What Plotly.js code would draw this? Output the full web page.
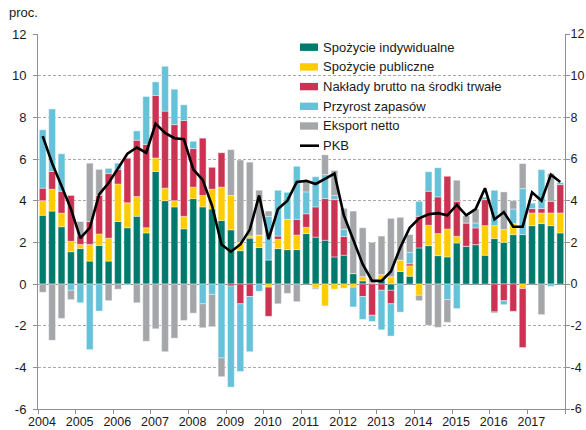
<!DOCTYPE html>
<html><head><meta charset="utf-8">
<script src="https://cdn.plot.ly/plotly-3.0.1.min.js"></script>
<style>html,body{margin:0;padding:0;background:#fff}#chart{width:586px;height:430px}</style>
</head><body><div id="chart"></div>
<script>
// ---- data ----
const years = ['2004','2005','2006','2007','2008','2009','2010','2011','2012','2013','2014','2015','2016','2017'];
const quarterNames = ['I','II','III','IV'];
const quarters = years.flatMap(y => quarterNames.map(q => y + ' ' + q));

const seriesNames = ['Spożycie indywidualne','Spożycie publiczne','Nakłady brutto na środki trwałe','Przyrost zapasów','Eksport netto','PKB'];

const spozycieIndywidualne = [
 3.3, 3.5, 2.75, 1.55,  1.7, 1.1, 1.85, 1.1,  3.0, 2.7, 3.25, 2.45,  5.4, 4.0, 3.7, 2.65,
 4.1, 3.7, 3.6, 3.05,  2.6, 1.6, 2.2, 1.75,  1.15, 1.7, 1.65, 1.65,  2.42, 2.25, 2.1, 1.3,
 1.38, 0.5, 0.15, 0.05,  0.2, -0.3, 0.6, 0.37,  1.73, 1.84, 1.36, 1.3,  1.97, 1.81, 1.89, 1.38,
 2.18, 2.0, 2.37, 2.37,  2.8, 2.9, 2.8, 2.45];
const spozyciePubliczne = [
 0.7, 1.05, 0.65, 0.5,  0.2, 0.8, 0.55, 1.1,  1.8, 1.2, 0.95, 0.25,  0.65, 0.6, 0.3, 0.6,
 0.55, 0.55, 0.95, 1.6,  1.65, 0.4, 0.1, 0.6,  -0.15, 0.45, 1.45, 0.7,  0.3, -0.2, -1.05, -0.25,
 -0.2, -0.15, 0.2, 0,  0.25, 0.35, 0.55, 0.5,  -0.54, 0.98, 1.06, 1.34,  0.32, 0, 0, 1.42,
 0.62, 0.61, 0.53, -0.22,  0.61, 0.51, 0.61, 0.96];
const nakladyBrutto = [
 0.6, 0.85, 1.05, 2.2,  0.4, 1.1, 1.85, 3.1,  0.7, 2.15, 2.7, 4.0,  3.0, 3.7, 3.65, 4.6,
 1.85, 2.75, 1.05, 1.65,  -0.1, -0.95, -0.6, 0,  -1.4, 0.15, 0, 0.75,  0.65, 1.45, 2.0, 2.75,
 0.9, 0, -0.6, -1.5,  -0.3, -0.65, 0, 0.1,  1.52, 1.63, 1.76, 2.53,  1.68, 1.12, 0.8, 1.25,
 -1.34, -0.8, -1.31, -2.83,  0.21, 0.21, 0.56, 1.36];
const przyrostZapasow = [
 2.8, 3.0, 1.8, -0.3,  -0.9, -3.15, -1.3, 0.25,  0.3, -0.05, 0.45, 2.3,  0.65, 2.15, 1.7, 0.75,
 0.35, -0.95, -0.5, -3.55,  -4.85, -3.25, -2.65, -0.35,  2.1, 2.2, 1.3, 2.55,  1.05, 1.45, 1.15, 0.2,
 0.35, -0.95, -1.1, -0.3,  -1.9, -1.55, -1.35, 0.55,  0.72, 0.94, 1.4, -0.75,  -1.18, 0, 0.24, 0.13,
 1.7, -0.19, 0.7, 2.21,  0.27, 1.87, -0.11, 0.11];
const eksportNetto = [
 -0.4, -2.7, -1.65, -0.45,  0.7, 2.8, 1.25, -0.8,  -0.25, 0, -0.9, -2.75,  -2.15, -3.25, -2.6, -1.75,
 -1.4, -1.15, -1.55, -0.9,  2.2, 3.95, 3.55, 2.15,  0.25, -0.95, -0.45, -0.85,  0.55, -0.05, 0.95, 1.2,
 1.0, 3.0, 2.35, 1.95,  1.85, 2.8, 2.05, 0.85,  -0.26, -1.98, -2.08, -1.09,  1.01, 0.35, 0.67, 0,
 -0.05, 1.81, 0.4, 1.2,  0, -1.47, 1.33, 0];
const pkb = [
 7.1, 5.8, 4.7, 3.6,  2.2, 2.7, 4.3, 4.85,  5.55, 6.25, 6.55, 6.3,  7.7, 7.25, 7.0, 6.95,
 5.5, 5.0, 3.75, 1.9,  1.55, 1.9, 2.6, 4.25,  2.15, 3.6, 4.0, 4.9,  4.95, 4.8, 5.05, 5.3,
 3.3, 2.1, 0.95, 0.15,  0.15, 0.6, 1.75, 2.7,  3.15, 3.35, 3.4, 3.3,  3.8, 3.3, 3.6, 4.6,
 3.1, 3.45, 2.75, 2.75,  4.4, 4.0, 5.25, 4.9];

const yTickVals = [-6,-4,-2,0,2,4,6,8,10,12];
const yTickText = ['-6','-4','-2','0','2','4','6','8','10','12'];

// ---- styles ----
const colors = ['#007A6C','#FFCC00','#CC3352','#66C2D8','#A4A6A9','#000000'];
const barSeries = [spozycieIndywidualne, spozyciePubliczne, nakladyBrutto, przyrostZapasow, eksportNetto];

const xPos = quarters.map((q, i) => i + 0.5);
const xTickVals = years.map((y, i) => i * 4).concat([quarters.length]);
const xTickText = years.concat(['']);

const traces = barSeries.map((s, k) => ({
  type: 'bar', name: seriesNames[k], x: xPos, y: s,
  marker: {color: colors[k], line: {color: 'rgba(255,255,255,0.65)', width: 0.6}},
  hoverinfo: 'skip', showlegend: false
}));
traces.push({
  type: 'scatter', mode: 'lines', name: seriesNames[5], x: xPos, y: pkb, yaxis: 'y2',
  line: {color: '#000', width: 2.6}, hoverinfo: 'skip', showlegend: false
});

// plot area in pixels: x 38..565, y 34..409
const PL = 38, PR = 565, PT = 34, PB = 409;
const px = v => (v - PL) / (PR - PL);
const py = v => (PB - v) / (PB - PT);

const shapes = [];
const annotations = [{
  text: 'proc.', xref: 'paper', yref: 'paper', x: px(7), y: py(12.5), xanchor: 'left', yanchor: 'middle',
  showarrow: false, font: {size: 13, color: '#1a1a1a'}
}];
seriesNames.forEach((name, k) => {
  const c = 47.2 + k * 19.7;
  if (k < 5) {
    shapes.push({type: 'rect', xref: 'paper', yref: 'paper', x0: px(300), x1: px(318), y0: py(c + 3.7), y1: py(c - 3.7),
      fillcolor: colors[k], line: {width: 0}});
  } else {
    shapes.push({type: 'line', xref: 'paper', yref: 'paper', x0: px(300), x1: px(319), y0: py(c), y1: py(c),
      line: {color: '#000', width: 2.6}});
  }
  annotations.push({text: name, xref: 'paper', yref: 'paper', x: px(320.5), y: py(c), xanchor: 'left', yanchor: 'middle',
    showarrow: false, font: {size: 13, color: '#1a1a1a'}});
});

const axisColor = '#8f8f8f';
const layout = {
  width: 586, height: 430,
  margin: {l: PL, r: 586 - PR, t: PT, b: 430 - PB, pad: 0},
  paper_bgcolor: '#fff', plot_bgcolor: '#fff',
  barmode: 'relative', bargap: 0.28,
  showlegend: false,
  font: {family: '"Liberation Sans", Arial, sans-serif', size: 13, color: '#1a1a1a'},
  xaxis: {range: [0, quarters.length], tickmode: 'array', tickvals: xTickVals, ticktext: xTickText,
    ticks: 'outside', ticklen: 4, tickcolor: axisColor, showline: true, linecolor: axisColor, linewidth: 1,
    showgrid: false, zeroline: false, ticklabelshift: 4, ticklabelstandoff: -3,
    tickfont: {size: 12.5}, fixedrange: true},
  yaxis: {range: [-6, 12], tickmode: 'array', tickvals: yTickVals, ticktext: yTickText,
    ticks: 'outside', ticklen: 4, tickcolor: axisColor, showline: true, linecolor: axisColor, linewidth: 1,
    showgrid: true, gridcolor: '#a9a9a9', gridwidth: 1, griddash: '3px,2px',
    zeroline: true, zerolinecolor: axisColor, zerolinewidth: 1, ticklabelstandoff: 4, fixedrange: true},
  yaxis2: {range: [-6, 12], overlaying: 'y', side: 'right', tickmode: 'array', tickvals: yTickVals, ticktext: yTickText,
    ticks: 'outside', ticklen: 4, tickcolor: axisColor, showline: true, linecolor: axisColor, linewidth: 1,
    showgrid: false, zeroline: false, ticklabelstandoff: -2, tickfont: {size: 12.5}, fixedrange: true},
  shapes: shapes,
  annotations: annotations
};

Plotly.newPlot('chart', traces, layout, {staticPlot: true, displayModeBar: false});
</script>
</body></html>
